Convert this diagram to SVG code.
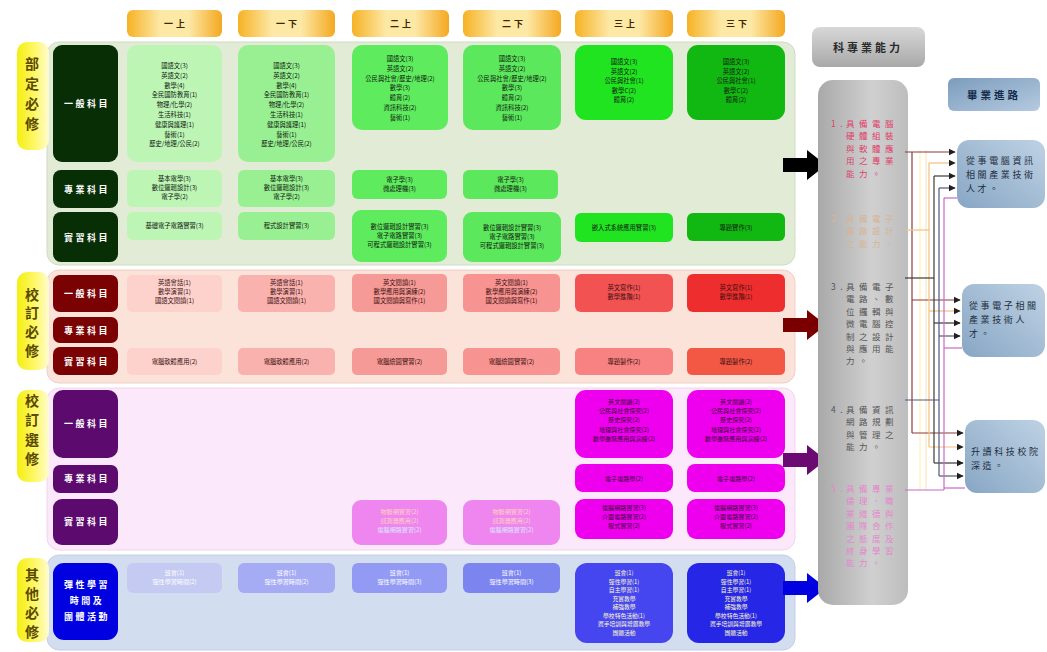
<svg xmlns="http://www.w3.org/2000/svg" width="1047" height="652" viewBox="0 0 1047 652">
<defs>
<linearGradient id="gHead" x1="0" y1="0" x2="1" y2="0">
<stop offset="0" stop-color="#f6b224"/><stop offset="0.35" stop-color="#fde8a6"/><stop offset="0.65" stop-color="#fde8a6"/><stop offset="1" stop-color="#f4a820"/>
</linearGradient>
<linearGradient id="gTab" x1="0" y1="0" x2="1" y2="0">
<stop offset="0" stop-color="#f4ee10"/><stop offset="0.6" stop-color="#fff870"/><stop offset="1" stop-color="#fffbd0"/>
</linearGradient>
<linearGradient id="gGray" x1="0" y1="0" x2="1" y2="0">
<stop offset="0" stop-color="#a9a9a9"/><stop offset="0.6" stop-color="#d0d0d0"/><stop offset="1" stop-color="#bdbdbd"/>
</linearGradient>
<linearGradient id="gGrayH" x1="0" y1="0" x2="0" y2="1">
<stop offset="0" stop-color="#d8d8d8"/><stop offset="1" stop-color="#a8a8a8"/>
</linearGradient>
<linearGradient id="gBlue" x1="0" y1="0" x2="1" y2="1">
<stop offset="0" stop-color="#7c9cbd"/><stop offset="1" stop-color="#b4cae0"/>
</linearGradient>
<linearGradient id="gBox" x1="0" y1="1" x2="1" y2="0">
<stop offset="0" stop-color="#87a6c4"/><stop offset="1" stop-color="#bfd2e4"/>
</linearGradient>
<marker id="ah" viewBox="0 0 10 10" refX="9" refY="5" markerWidth="6" markerHeight="6" orient="auto">
<path d="M0,0 L10,5 L0,10 Z" fill="#202020"/>
</marker>
<style>
text{font-family:"Noto Sans CJK TC","Noto Sans CJK SC",sans-serif;}
.hd{font-size:9px;fill:#3a2a00;text-anchor:middle;letter-spacing:3px;font-weight:bold;}
.tab{font-size:14px;fill:#5a4a00;text-anchor:middle;font-weight:bold;}
.rl{font-size:9px;fill:#ffffff;text-anchor:middle;letter-spacing:2.5px;font-weight:bold;}
.c{font-size:6.3px;text-anchor:middle;fill:#102010;}
.cr{font-size:6.3px;text-anchor:middle;fill:#401010;}
.cp{font-size:6.1px;text-anchor:middle;fill:#3a003a;}
.cw{font-size:6.1px;text-anchor:middle;fill:#ffffff;}
.cy{font-size:5.8px;text-anchor:middle;fill:#fffbc8;}
.gp{font-size:8.5px;letter-spacing:4.5px;}
.bx{font-size:9px;fill:#1e2e40;letter-spacing:2.6px;}
.ln{fill:none;stroke-width:1.2;}
</style>
</defs>
<rect width="1047" height="652" fill="#ffffff"/>

<!-- column headers -->
<g id="headers">
<rect x="127" y="10" width="95" height="27" rx="6" fill="url(#gHead)"/><text class="hd" x="176" y="27">一上</text>
<rect x="238" y="10" width="97" height="27" rx="6" fill="url(#gHead)"/><text class="hd" x="288" y="27">一下</text>
<rect x="352" y="10" width="97" height="27" rx="6" fill="url(#gHead)"/><text class="hd" x="402" y="27">二上</text>
<rect x="463" y="10" width="98" height="27" rx="6" fill="url(#gHead)"/><text class="hd" x="514" y="27">二下</text>
<rect x="575" y="10" width="98" height="27" rx="6" fill="url(#gHead)"/><text class="hd" x="626" y="27">三上</text>
<rect x="687" y="10" width="98" height="27" rx="6" fill="url(#gHead)"/><text class="hd" x="738" y="27">三下</text>
</g>

<!-- Section 1 部定必修 -->
<g id="sec1">
<rect x="47" y="42" width="748" height="223" rx="12" fill="#e2ebd5" stroke="#cfdcc3"/>
<rect x="17" y="42" width="32" height="108" rx="10" fill="url(#gTab)"/>
<text class="tab"><tspan x="32" y="69">部</tspan><tspan x="32" y="89">定</tspan><tspan x="32" y="109">必</tspan><tspan x="32" y="129">修</tspan></text>
<rect x="53" y="45" width="65" height="117" rx="9" fill="#082e06"/><text class="rl" x="87" y="107">一般科目</text>
<rect x="53" y="170" width="65" height="38" rx="8" fill="#082e06"/><text class="rl" x="87" y="193">專業科目</text>
<rect x="53" y="212" width="65" height="50" rx="8" fill="#082e06"/><text class="rl" x="87" y="241">實習科目</text>

<rect x="127" y="45" width="95" height="117" rx="10" fill="#bdf5b5"/>
<text class="c"><tspan x="174.5" y="68">國語文(3)</tspan><tspan x="174.5" dy="9.8">英語文(2)</tspan><tspan x="174.5" dy="9.8">數學(4)</tspan><tspan x="174.5" dy="9.8">全民國防教育(1)</tspan><tspan x="174.5" dy="9.8">物理/化學(2)</tspan><tspan x="174.5" dy="9.8">生活科技(1)</tspan><tspan x="174.5" dy="9.8">健康與護理(1)</tspan><tspan x="174.5" dy="9.8">藝術(1)</tspan><tspan x="174.5" dy="9.8">歷史/地理/公民(2)</tspan></text>
<rect x="238" y="45" width="97" height="117" rx="10" fill="#99f092"/>
<text class="c"><tspan x="286.5" y="68">國語文(3)</tspan><tspan x="286.5" dy="9.8">英語文(2)</tspan><tspan x="286.5" dy="9.8">數學(4)</tspan><tspan x="286.5" dy="9.8">全民國防教育(1)</tspan><tspan x="286.5" dy="9.8">物理/化學(2)</tspan><tspan x="286.5" dy="9.8">生活科技(1)</tspan><tspan x="286.5" dy="9.8">健康與護理(1)</tspan><tspan x="286.5" dy="9.8">藝術(1)</tspan><tspan x="286.5" dy="9.8">歷史/地理/公民(2)</tspan></text>
<rect x="352" y="45" width="96" height="85" rx="10" fill="#5eec5e"/>
<text class="c"><tspan x="400" y="61">國語文(3)</tspan><tspan x="400" dy="9.8">英語文(2)</tspan><tspan x="400" dy="9.8">公民與社會/歷史/地理(2)</tspan><tspan x="400" dy="9.8">數學(3)</tspan><tspan x="400" dy="9.8">體育(2)</tspan><tspan x="400" dy="9.8">資訊科技(2)</tspan><tspan x="400" dy="9.8">藝術(1)</tspan></text>
<rect x="463" y="45" width="98" height="85" rx="10" fill="#5ce85c"/>
<text class="c"><tspan x="512" y="61">國語文(3)</tspan><tspan x="512" dy="9.8">英語文(2)</tspan><tspan x="512" dy="9.8">公民與社會/歷史/地理(2)</tspan><tspan x="512" dy="9.8">數學(3)</tspan><tspan x="512" dy="9.8">體育(2)</tspan><tspan x="512" dy="9.8">資訊科技(2)</tspan><tspan x="512" dy="9.8">藝術(1)</tspan></text>
<rect x="575" y="45" width="98" height="75" rx="11" fill="#20e420"/>
<text class="c"><tspan x="624" y="64">國語文(3)</tspan><tspan x="624" dy="9.5">英語文(2)</tspan><tspan x="624" dy="9.5">公民與社會(1)</tspan><tspan x="624" dy="9.5">數學C(2)</tspan><tspan x="624" dy="9.5">體育(2)</tspan></text>
<rect x="687" y="45" width="98" height="75" rx="11" fill="#12b812"/>
<text class="c"><tspan x="736" y="64">國語文(3)</tspan><tspan x="736" dy="9.5">英語文(2)</tspan><tspan x="736" dy="9.5">公民與社會(1)</tspan><tspan x="736" dy="9.5">數學C(2)</tspan><tspan x="736" dy="9.5">體育(2)</tspan></text>

<rect x="127" y="170" width="95" height="37" rx="6" fill="#bdf5b5"/>
<text class="c"><tspan x="174.5" y="181">基本電學(3)</tspan><tspan x="174.5" dy="9.2">數位邏輯設計(3)</tspan><tspan x="174.5" dy="9.2">電子學(2)</tspan></text>
<rect x="238" y="170" width="97" height="37" rx="6" fill="#99f092"/>
<text class="c"><tspan x="286.5" y="181">基本電學(3)</tspan><tspan x="286.5" dy="9.2">數位邏輯設計(3)</tspan><tspan x="286.5" dy="9.2">電子學(2)</tspan></text>
<rect x="352" y="170" width="95" height="29" rx="6" fill="#5eec5e"/>
<text class="c"><tspan x="399.5" y="182">電子學(3)</tspan><tspan x="399.5" dy="9.2">微處理機(3)</tspan></text>
<rect x="463" y="170" width="95" height="29" rx="6" fill="#5ce85c"/>
<text class="c"><tspan x="510.5" y="182">電子學(3)</tspan><tspan x="510.5" dy="9.2">微處理機(3)</tspan></text>

<rect x="127" y="212" width="95" height="28" rx="6" fill="#bdf5b5"/>
<text class="c" x="174.5" y="228">基礎電子電路實習(3)</text>
<rect x="238" y="212" width="97" height="28" rx="6" fill="#99f092"/>
<text class="c" x="286.5" y="228">程式設計實習(3)</text>
<rect x="352" y="210" width="95" height="52" rx="9" fill="#5eec5e"/>
<text class="c"><tspan x="399.5" y="229">數位邏輯設計實習(3)</tspan><tspan x="399.5" dy="9.2">電子電路實習(3)</tspan><tspan x="399.5" dy="9.2">可程式邏輯設計實習(3)</tspan></text>
<rect x="463" y="212" width="98" height="50" rx="9" fill="#5ce85c"/>
<text class="c"><tspan x="512" y="230">數位邏輯設計實習(3)</tspan><tspan x="512" dy="9.2">電子電路實習(3)</tspan><tspan x="512" dy="9.2">可程式邏輯設計實習(3)</tspan></text>
<rect x="575" y="213" width="98" height="29" rx="6" fill="#20e420"/>
<text class="c" x="624" y="230">嵌入式系統應用實習(3)</text>
<rect x="687" y="213" width="98" height="28" rx="6" fill="#12b812"/>
<text class="c" x="736" y="230">專題實作(3)</text>
</g>

<!-- Section 2 校訂必修 -->
<g id="sec2">
<rect x="47" y="270" width="748" height="113" rx="12" fill="#fbe3d9" stroke="#ecd0c4"/>
<rect x="17" y="272" width="32" height="98" rx="10" fill="url(#gTab)"/>
<text class="tab"><tspan x="32" y="300">校</tspan><tspan x="32" y="318">訂</tspan><tspan x="32" y="337">必</tspan><tspan x="32" y="356">修</tspan></text>
<rect x="53" y="275" width="65" height="37" rx="7" fill="#7a0202"/><text class="rl" x="87" y="297">一般科目</text>
<rect x="53" y="317" width="65" height="26" rx="7" fill="#7a0202"/><text class="rl" x="87" y="334">專業科目</text>
<rect x="53" y="347" width="65" height="28" rx="7" fill="#7a0202"/><text class="rl" x="87" y="365">實習科目</text>

<rect x="127" y="275" width="95" height="37" rx="5" fill="#fdd2cd"/>
<text class="cr"><tspan x="174.5" y="285">英語會話(1)</tspan><tspan x="174.5" dy="9.2">數學演習(1)</tspan><tspan x="174.5" dy="9.2">國語文閱讀(1)</tspan></text>
<rect x="238" y="275" width="97" height="37" rx="5" fill="#f9b2ae"/>
<text class="cr"><tspan x="286.5" y="285">英語會話(1)</tspan><tspan x="286.5" dy="9.2">數學演習(1)</tspan><tspan x="286.5" dy="9.2">國語文閱讀(1)</tspan></text>
<rect x="352" y="274" width="95" height="38" rx="5" fill="#f59a96"/>
<text class="cr"><tspan x="399.5" y="285">英文閱讀(1)</tspan><tspan x="399.5" dy="9.2">數學應用與演練(2)</tspan><tspan x="399.5" dy="9.2">國文閱讀與寫作(1)</tspan></text>
<rect x="463" y="274" width="97" height="38" rx="5" fill="#f79390"/>
<text class="cr"><tspan x="511.5" y="285">英文閱讀(1)</tspan><tspan x="511.5" dy="9.2">數學應用與演練(2)</tspan><tspan x="511.5" dy="9.2">國文閱讀與寫作(1)</tspan></text>
<rect x="575" y="274" width="98" height="38" rx="6" fill="#f25252"/>
<text class="cr"><tspan x="624" y="290">英文寫作(1)</tspan><tspan x="624" dy="9.2">數學進階(1)</tspan></text>
<rect x="687" y="274" width="98" height="38" rx="6" fill="#ee2e2e"/>
<text class="cr"><tspan x="736" y="290">英文寫作(1)</tspan><tspan x="736" dy="9.2">數學進階(1)</tspan></text>

<rect x="127" y="348" width="95" height="27" rx="5" fill="#fdd2cd"/>
<text class="cr" x="174.5" y="364">電腦軟體應用(2)</text>
<rect x="238" y="348" width="97" height="27" rx="5" fill="#f9b2ae"/>
<text class="cr" x="286.5" y="364">電腦軟體應用(2)</text>
<rect x="352" y="348" width="95" height="27" rx="5" fill="#f59a96"/>
<text class="cr" x="399.5" y="364">電腦繪圖實習(2)</text>
<rect x="463" y="348" width="97" height="27" rx="5" fill="#f79390"/>
<text class="cr" x="511.5" y="364">電腦繪圖實習(2)</text>
<rect x="575" y="348" width="98" height="27" rx="5" fill="#f88282"/>
<text class="cr" x="624" y="364">專題製作(2)</text>
<rect x="687" y="348" width="98" height="27" rx="5" fill="#f35845"/>
<text class="cr" x="736" y="364">專題製作(2)</text>
</g>

<!-- Section 3 校訂選修 -->
<g id="sec3">
<rect x="47" y="388" width="748" height="162" rx="12" fill="#fce8fb" stroke="#f0d6ef"/>
<rect x="17" y="390" width="32" height="92" rx="10" fill="url(#gTab)"/>
<text class="tab"><tspan x="32" y="406">校</tspan><tspan x="32" y="425">訂</tspan><tspan x="32" y="445">選</tspan><tspan x="32" y="464">修</tspan></text>
<rect x="53" y="390" width="65" height="68" rx="10" fill="#5c0a6e"/><text class="rl" x="87" y="427">一般科目</text>
<rect x="53" y="465" width="65" height="28" rx="7" fill="#5c0a6e"/><text class="rl" x="87" y="482">專業科目</text>
<rect x="53" y="499" width="65" height="46" rx="9" fill="#5c0a6e"/><text class="rl" x="87" y="525">實習科目</text>

<rect x="575" y="390" width="98" height="68" rx="11" fill="#ee00ee"/>
<text class="cp"><tspan x="624" y="404">英文閱讀(2)</tspan><tspan x="624" dy="9.2">公民與社會探究(2)</tspan><tspan x="624" dy="9.2">歷史探究(2)</tspan><tspan x="624" dy="9.2">地理與社會探究(2)</tspan><tspan x="624" dy="9.2">數學進階應用與演練(2)</tspan></text>
<rect x="687" y="390" width="98" height="68" rx="11" fill="#ee00ee"/>
<text class="cp"><tspan x="736" y="404">英文閱讀(2)</tspan><tspan x="736" dy="9.2">公民與社會探究(2)</tspan><tspan x="736" dy="9.2">歷史探究(2)</tspan><tspan x="736" dy="9.2">地理與社會探究(2)</tspan><tspan x="736" dy="9.2">數學進階應用與演練(2)</tspan></text>
<rect x="575" y="464" width="98" height="28" rx="8" fill="#ee00ee"/>
<text class="cp" x="624" y="481">電子電路學(2)</text>
<rect x="687" y="464" width="98" height="28" rx="8" fill="#ee00ee"/>
<text class="cp" x="736" y="481">電子電路學(2)</text>
<rect x="575" y="499" width="98" height="40" rx="9" fill="#ee00ee"/>
<text class="cp"><tspan x="624" y="510">電腦網路實習(3)</tspan><tspan x="624" dy="9.2">介面電路實習(2)</tspan><tspan x="624" dy="9.2">程式實習(2)</tspan></text>
<rect x="687" y="499" width="98" height="40" rx="9" fill="#ee00ee"/>
<text class="cp"><tspan x="736" y="510">電腦網路實習(3)</tspan><tspan x="736" dy="9.2">介面電路實習(2)</tspan><tspan x="736" dy="9.2">程式實習(2)</tspan></text>
<rect x="352" y="500" width="95" height="45" rx="9" fill="#ef86ef"/>
<text class="cw"><tspan x="399.5" y="514" fill="#ffd0c0">物聯網實習(2)</tspan><tspan x="399.5" dy="9.2" fill="#ffd0c0">感測器應用(2)</tspan><tspan x="399.5" dy="9.2" fill="#d8e4ff">電腦網路實習(2)</tspan></text>
<rect x="463" y="500" width="97" height="45" rx="9" fill="#ef86ef"/>
<text class="cw"><tspan x="511.5" y="514" fill="#ffd0c0">物聯網實習(2)</tspan><tspan x="511.5" dy="9.2" fill="#ffd0c0">感測器應用(2)</tspan><tspan x="511.5" dy="9.2" fill="#d8e4ff">電腦網路實習(2)</tspan></text>
</g>

<!-- Section 4 其他必修 -->
<g id="sec4">
<rect x="47" y="555" width="748" height="95" rx="12" fill="#d3ddf0" stroke="#c2cfe6"/>
<rect x="17" y="558" width="32" height="84" rx="10" fill="url(#gTab)"/>
<text class="tab"><tspan x="32" y="580">其</tspan><tspan x="32" y="599">他</tspan><tspan x="32" y="618">必</tspan><tspan x="32" y="637">修</tspan></text>
<rect x="53" y="563" width="65" height="77" rx="11" fill="#0000e0"/>
<text class="rl"><tspan x="87" y="588">彈性學習</tspan><tspan x="87" dy="16">時間及</tspan><tspan x="87" dy="16">團體活動</tspan></text>

<rect x="127" y="563" width="95" height="30" rx="6" fill="#c5caf2"/>
<text class="cw"><tspan x="174.5" y="575">班會(1)</tspan><tspan x="174.5" dy="9">彈性學習時間(2)</tspan></text>
<rect x="238" y="563" width="97" height="30" rx="6" fill="#a6acf4"/>
<text class="cw"><tspan x="286.5" y="575">班會(1)</tspan><tspan x="286.5" dy="9">彈性學習時間(2)</tspan></text>
<rect x="352" y="563" width="95" height="30" rx="6" fill="#939af4"/>
<text class="cw"><tspan x="399.5" y="575">班會(1)</tspan><tspan x="399.5" dy="9">彈性學習時間(3)</tspan></text>
<rect x="463" y="563" width="97" height="30" rx="6" fill="#7b84ef"/>
<text class="cw"><tspan x="511.5" y="575">班會(1)</tspan><tspan x="511.5" dy="9">彈性學習時間(3)</tspan></text>
<rect x="575" y="563" width="98" height="80" rx="12" fill="#4646f0"/>
<text class="cy"><tspan x="624" y="575">班會(1)</tspan><tspan x="624" dy="8.5">彈性學習(1)</tspan><tspan x="624" dy="8.5">自主學習(1)</tspan><tspan x="624" dy="8.5">充實教學</tspan><tspan x="624" dy="8.5">補強教學</tspan><tspan x="624" dy="8.5">學校特色活動(1)</tspan><tspan x="624" dy="8.5">選手培訓與增廣教學</tspan><tspan x="624" dy="8.5">團體活動</tspan></text>
<rect x="687" y="563" width="98" height="80" rx="12" fill="#2626e6"/>
<text class="cy"><tspan x="736" y="575">班會(1)</tspan><tspan x="736" dy="8.5">彈性學習(1)</tspan><tspan x="736" dy="8.5">自主學習(1)</tspan><tspan x="736" dy="8.5">充實教學</tspan><tspan x="736" dy="8.5">補強教學</tspan><tspan x="736" dy="8.5">學校特色活動(1)</tspan><tspan x="736" dy="8.5">選手培訓與增廣教學</tspan><tspan x="736" dy="8.5">團體活動</tspan></text>
</g>

<!-- block arrows -->
<g id="arrows">
<path d="M783,158 H807 V150 L826,165 L807,180 V172 H783 Z" fill="#000000"/>
<path d="M783,318 H807 V310 L826,325 L807,340 V332 H783 Z" fill="#7a0000"/>
<path d="M783,453 H807 V445 L826,460 L807,475 V467 H783 Z" fill="#6a0a72"/>
<path d="M783,581 H807 V573 L826,588 L807,603 V595 H783 Z" fill="#0000e0"/>
</g>

<!-- ability column -->
<g id="ability">
<rect x="812" y="27" width="113" height="40" rx="8" fill="url(#gGrayH)"/>
<text x="868" y="52" style="font-size:11px;fill:#2a2a2a;text-anchor:middle;letter-spacing:3px;font-weight:bold">科專業能力</text>
<rect x="818" y="80" width="90" height="525" rx="15" fill="url(#gGray)"/>
<text class="gp" fill="#e0406a"><tspan x="831" y="127">1.</tspan><tspan x="846" y="127">具備電腦</tspan><tspan x="846" dy="12.4">硬體組裝</tspan><tspan x="846" dy="12.4">與軟體應</tspan><tspan x="846" dy="12.4">用之專業</tspan><tspan x="846" dy="12.4">能力。</tspan></text>
<text class="gp" fill="#d8b492"><tspan x="831" y="222">2.</tspan><tspan x="846" y="222">具備電子</tspan><tspan x="846" dy="12.4">電路設計</tspan><tspan x="846" dy="12.4">之能力。</tspan></text>
<text class="gp" fill="#555555"><tspan x="831" y="290">3.</tspan><tspan x="846" y="290">具備電子</tspan><tspan x="846" dy="12.4">電路、數</tspan><tspan x="846" dy="12.4">位邏輯與</tspan><tspan x="846" dy="12.4">微電腦控</tspan><tspan x="846" dy="12.4">制之設計</tspan><tspan x="846" dy="12.4">與應用能</tspan><tspan x="846" dy="12.4">力。</tspan></text>
<text class="gp" fill="#555555"><tspan x="831" y="413">4.</tspan><tspan x="846" y="413">具備資訊</tspan><tspan x="846" dy="12.4">網路規劃</tspan><tspan x="846" dy="12.4">與管理之</tspan><tspan x="846" dy="12.4">能力。</tspan></text>
<text class="gp" fill="#e486cc"><tspan x="831" y="492">5.</tspan><tspan x="846" y="492">具備專業</tspan><tspan x="846" dy="12.4">倫理、職</tspan><tspan x="846" dy="12.4">業道德與</tspan><tspan x="846" dy="12.4">團隊合作</tspan><tspan x="846" dy="12.4">之態度及</tspan><tspan x="846" dy="12.4">終身學習</tspan><tspan x="846" dy="12.4">能力。</tspan></text>
</g>

<!-- career targets -->
<g id="career-head">
<rect x="948" y="78" width="92" height="33" rx="6" fill="url(#gBlue)"/>
<text x="994" y="99" style="font-size:10.5px;fill:#122a4a;text-anchor:middle;letter-spacing:3px;font-weight:bold">畢業進路</text>
</g>
<g id="career1">
<rect x="957" y="140" width="88" height="68" rx="12" fill="url(#gBox)"/>
<text class="bx"><tspan x="966" y="164">從事電腦資訊</tspan><tspan x="966" dy="14">相關產業技術</tspan><tspan x="966" dy="14">人才。</tspan></text>
</g>
<g id="career2">
<rect x="962" y="284" width="83" height="73" rx="12" fill="url(#gBox)"/>
<text class="bx"><tspan x="969" y="309">從事電子相關</tspan><tspan x="969" dy="14">產業技術人</tspan><tspan x="969" dy="14">才。</tspan></text>
</g>
<g id="career3">
<rect x="965" y="420" width="80" height="73" rx="12" fill="url(#gBox)"/>
<text class="bx"><tspan x="971" y="455">升讀科技校院</tspan><tspan x="971" dy="14">深造。</tspan></text>
</g>

<!-- connectors -->
<g id="connectors">
<path class="ln" stroke="#fff2b8" d="M920,150 V490"/>
<path class="ln" stroke="#fde7c0" d="M926,150 V490"/>
<path class="ln" stroke="#8b3a3a" d="M905,152 H955" marker-end="url(#ah)"/>
<path class="ln" stroke="#8b3a3a" d="M912,152 V433"/>
<path class="ln" stroke="#8b3a3a" d="M912,300 H960" marker-end="url(#ah)"/>
<path class="ln" stroke="#8b3a3a" d="M912,433 H963" marker-end="url(#ah)"/>
<path class="ln" stroke="#f0c080" d="M905,230 H929"/>
<path class="ln" stroke="#f0c080" d="M929,163 V447"/>
<path class="ln" stroke="#f0c080" d="M929,163 H955" marker-end="url(#ah)"/>
<path class="ln" stroke="#f0c080" d="M929,311 H960" marker-end="url(#ah)"/>
<path class="ln" stroke="#f0c080" d="M929,447 H963" marker-end="url(#ah)"/>
<path class="ln" stroke="#3a3a3a" d="M905,278 H934"/>
<path class="ln" stroke="#3a3a3a" d="M934,176 V463"/>
<path class="ln" stroke="#3a3a3a" d="M934,176 H955" marker-end="url(#ah)"/>
<path class="ln" stroke="#3a3a3a" d="M934,323 H960" marker-end="url(#ah)"/>
<path class="ln" stroke="#3a3a3a" d="M934,463 H963" marker-end="url(#ah)"/>
<path class="ln" stroke="#505878" d="M905,400 H939"/>
<path class="ln" stroke="#505878" d="M939,188 V476"/>
<path class="ln" stroke="#505878" d="M939,188 H955" marker-end="url(#ah)"/>
<path class="ln" stroke="#505878" d="M939,336 H960" marker-end="url(#ah)"/>
<path class="ln" stroke="#505878" d="M939,476 H963" marker-end="url(#ah)"/>
<path class="ln" stroke="#c868c8" d="M905,490 H944"/>
<path class="ln" stroke="#c868c8" d="M944,198 V490"/>
<path class="ln" stroke="#c868c8" d="M944,198 H957"/>
<path class="ln" stroke="#c868c8" d="M944,348 H962"/>
<path class="ln" stroke="#c868c8" d="M944,488 H965"/>
</g>
</svg>
